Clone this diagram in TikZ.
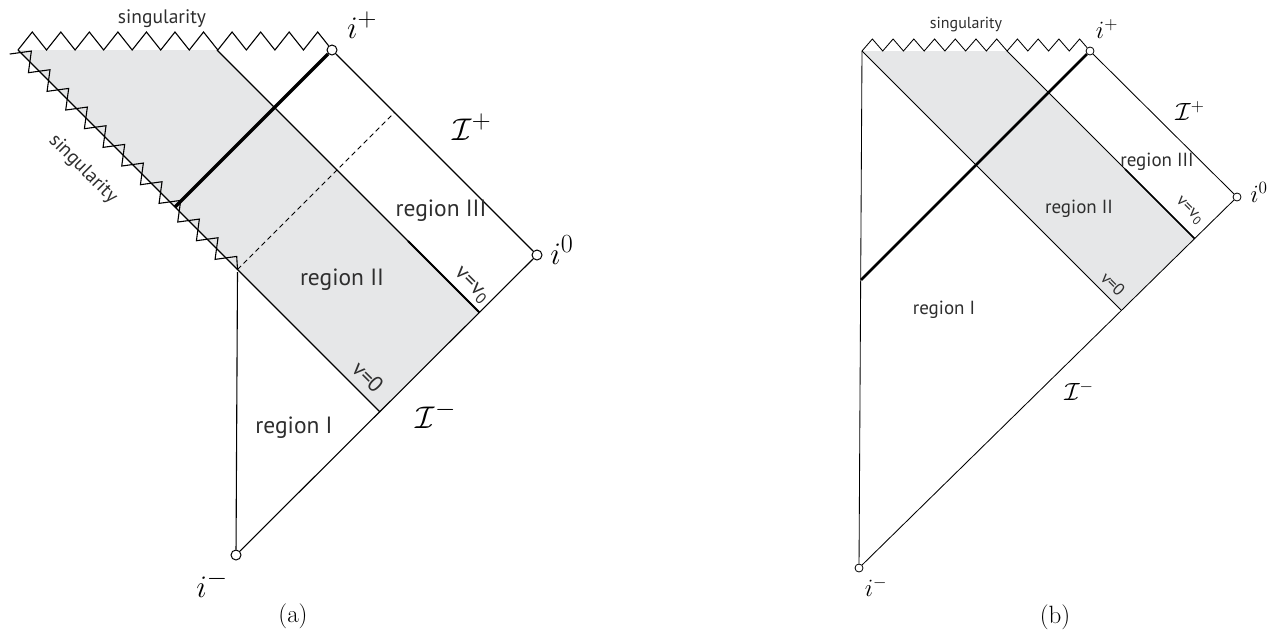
\documentclass[tikz,border=0pt]{standalone}
\usepackage{fontspec}
\setsansfont{PT Sans}
\definecolor{shadegray}{RGB}{230,231,232}
\newcommand{\mlabA}[1]{\scalebox{1.26}{$#1$}}
\newcommand{\mlabB}[1]{\scalebox{1.2}{$#1$}}
\tikzset{
  lna/.style={line width=1.1pt},
  lnb/.style={line width=0.85pt},
  heavya/.style={line width=3.2pt},
  heavyb/.style={line width=2.6pt},
  mida/.style={line width=1.9pt},
  midb/.style={line width=1.5pt},
  dashline/.style={line width=1pt, dash pattern=on 5pt off 3.5pt},
  endpta/.style={circle, draw, fill=white, inner sep=0pt, minimum size=10pt, line width=1pt},
  endptb/.style={circle, draw, fill=white, inner sep=0pt, minimum size=8pt, line width=0.8pt},
  rega/.style={font=\sffamily\fontsize{23.5}{25}\selectfont, inner sep=0pt, text=black!82},
  singa/.style={font=\sffamily\fontsize{19.5}{21}\selectfont, inner sep=0pt, text=black!82},
  va/.style={font=\sffamily\fontsize{22}{24}\selectfont, inner sep=0pt, text=black!82, rotate=-45},
  regb/.style={font=\sffamily\fontsize{19}{20}\selectfont, inner sep=0pt, text=black!82},
  singb/.style={font=\sffamily\fontsize{16}{17}\selectfont, inner sep=0pt, text=black!82},
  vb/.style={font=\sffamily\fontsize{17}{18}\selectfont, inner sep=0pt, text=black!82, rotate=-45},
  matha/.style={font=\fontsize{24.88}{27}\selectfont, inner sep=0pt},
  mathb/.style={font=\fontsize{20.74}{23}\selectfont, inner sep=0pt},
  captxt/.style={font=\fontsize{25}{27}\selectfont, inner sep=0pt},
}
\begin{document}
\begin{tikzpicture}[x=1pt,y=-1pt]
\useasboundingbox (0,0) rectangle (1282,630);

% ================= (a) =================
\coordinate (aS) at (18,50);
\coordinate (aH) at (217,50);
\coordinate (aP1) at (479.5,312.5);
\coordinate (aP2) at (380,412);
\coordinate (aT) at (175,207);
\coordinate (aD1) at (237.5,269.5);
\coordinate (aD2) at (394.5,112.5);
\coordinate (aR) at (237.5,272);
\coordinate (aK) at (408,241);
\coordinate (aZ0) at ({18+0.7071*(-3-8.7)},{50+0.7071*(-3+8.7)});

\fill[shadegray] (aS) -- (aH) -- (aP1) -- (aP2) -- cycle;

\node[endpta] (aip) at (332,50) {};
\node[endpta] (ai0) at (537,255) {};
\node[endpta] (aim) at (236,555) {};

% top singularity
\draw[lna] (aS) \foreach \k in {0,...,9} { -- ({18+28.545*\k+14.27},32) -- ({18+28.545*(\k+1)},50) } -- (317.7,32) -- (aip);
% diagonal singularity
\draw[lna] (aZ0) \foreach \k in {1,...,23} { -- ({18+0.7071*(-3+13.2*\k+8.7*(2*mod(\k,2)-1))},{50+0.7071*(-3+13.2*\k-8.7*(2*mod(\k,2)-1))}) } -- (aD1);

\draw[lna] (aS) -- (aP2);
\draw[lna] (aH) -- (aP1);
\draw[mida] (aK) -- (aP1);
\draw[heavya] (aip) -- (aT);
\draw[lna] (aip) -- (ai0);
\draw[lna] (aim) -- (ai0);
\draw[lna] (aim) -- (aR);
\draw[dashline] (aD1) -- (aD2);

\node[singa] (asing1) at (162,19) {singularity};
\node[singa, rotate=-45] (asing2) at (83,169) {singularity};
\node[matha] (aipl) at (362,25) {\mlabA{i^+}};
\node[matha] (aIpl) at (472,127) {\mlabA{\mathcal{I}^+}};
\node[rega] (aR3) at (441,211) {region III};
\node[matha] (ai0l) at (562,250) {\mlabA{i^0}};
\node[rega] (aR2) at (342,280) {region II};
\node[va] (avv0) at (471,286) {v=v\textsubscript{0}};
\node[va] (av0) at (368,377) {v=0};
\node[rega] (aR1) at (294,428) {region I};
\node[matha] (aIml) at (436,415) {\mlabA{\mathcal{I}^-}};
\node[matha] (aiml) at (212,584) {\mlabA{i^-}};
\node[captxt] (acap) at (293,616) {(a)};

% ================= (b) =================
\coordinate (bA) at (862,51);
\coordinate (bH) at (1007,51);
\coordinate (bP1) at (1194.6,238.6);
\coordinate (bP2) at (1121.4,310.4);
\coordinate (bT) at (861,280);
\coordinate (bK) at (1125,169);

\fill[shadegray] (bA) -- (bH) -- (bP1) -- (bP2) -- cycle;

\node[endptb] (bip) at (1090,51) {};
\node[endptb] (bi0) at (1237,197) {};
\node[endptb] (bim) at (859,568) {};

\draw[lnb] (bA) \foreach \k in {0,...,9} { -- ({862+20.727*\k+10.36},39) -- ({862+20.727*(\k+1)},51) } -- (1079.6,39) -- (bip);

\draw[lnb] (bA) -- (bP2);
\draw[lnb] (bH) -- (bP1);
\draw[midb] (bK) -- (bP1);
\draw[heavyb] (bip) -- (bT);
\draw[lnb] (bip) -- (bi0);
\draw[lnb] (bim) -- (bi0);
\draw[lnb] (bim) -- (bA);

\node[singb] (bsing) at (966,25) {singularity};
\node[mathb] (bipl) at (1107,29) {\mlabB{i^+}};
\node[mathb] (bIpl) at (1190,111) {\mlabB{\mathcal{I}^+}};
\node[regb] (bR3) at (1157,162) {region III};
\node[mathb] (bi0l) at (1259,192) {\mlabB{i^0}};
\node[regb] (bR2) at (1079,209) {region II};
\node[vb] (bvv0) at (1189,211) {v=v\textsubscript{0}};
\node[vb] (bv0) at (1113,284) {v=0};
\node[regb] (bR1) at (944,310) {region I};
\node[mathb] (bIml) at (1079,391) {\mlabB{\mathcal{I}^-}};
\node[mathb] (biml) at (876,587) {\mlabB{i^-}};
\node[captxt] (bcap) at (1055,617) {(b)};
\end{tikzpicture}
\end{document}
